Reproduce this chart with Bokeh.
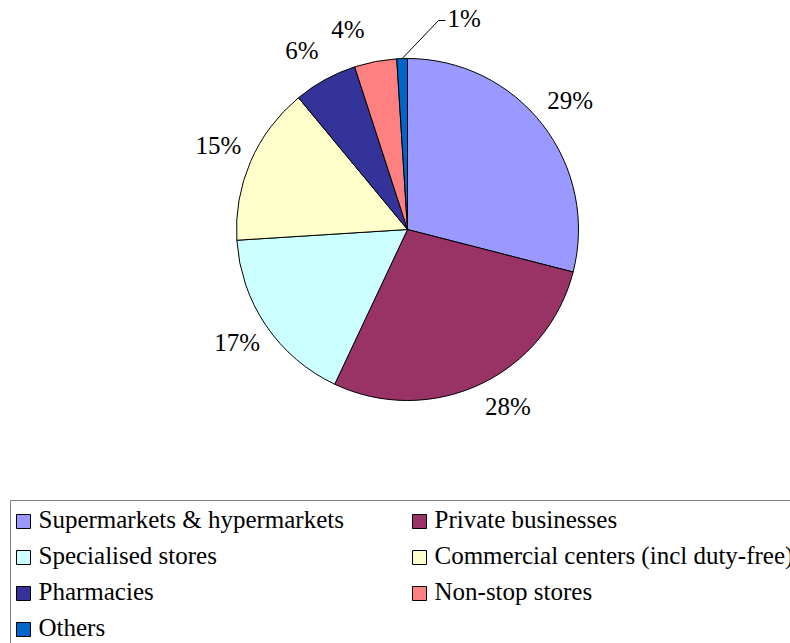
import math
from bokeh.plotting import figure
from bokeh.models import Range1d, ColumnDataSource, Label
from bokeh.embed import file_html
from bokeh.resources import INLINE

# ---- data ----
categories = ["Supermarkets & hypermarkets", "Private businesses", "Specialised stores",
              "Commercial centers (incl duty-free)", "Pharmacies", "Non-stop stores", "Others"]
shares = [29, 28, 17, 15, 6, 4, 1]
colors = ["#9999FF", "#993366", "#CCFFFF", "#FFFFCC", "#333399", "#FF8080", "#0066CC"]

W, H = 790, 643
FS = "25px"
FONT_NAME = "Liberation Serif"
BOTTOM_OFF = 11  # px from the visual middle of a text line down to its bottom anchor


def Y(py):
    return H - py


def add_text(x, ymid, text, align):
    p.add_layout(Label(x=x, y=ymid - BOTTOM_OFF, text=text, text_font=FONT_NAME,
                       text_font_size=FS, text_align=align, text_baseline="bottom",
                       text_color="black"))


p = figure(width=W, height=H, output_backend="svg", toolbar_location=None,
           x_range=Range1d(0, W), y_range=Range1d(0, H), min_border=0)
p.axis.visible = False
p.grid.visible = False
p.outline_line_color = None
p.background_fill_color = "white"
p.border_fill_color = "white"

# ---- pie ----
cx, cy, R = 407, Y(229), 171
total = float(sum(shares))
starts, ends, mids = [], [], []
acc = 0.0
for s in shares:
    a0 = math.pi / 2 - 2 * math.pi * acc / total
    acc += s
    a1 = math.pi / 2 - 2 * math.pi * acc / total
    starts.append(a0)
    ends.append(a1)
    mids.append((a0 + a1) / 2)

src = ColumnDataSource(dict(start=starts, end=ends, color=colors))
p.wedge(x=cx, y=cy, radius=R, start_angle="start", end_angle="end", direction="clock",
        fill_color="color", line_color="black", line_width=1, source=src)

# ---- data labels (outside end) ----
label_r = 206
nudge_deg = [0, 4, 0, 0, 2, 6]
for i in range(len(shares) - 1):
    a = mids[i] + math.radians(nudge_deg[i])
    add_text(cx + label_r * math.cos(a), cy + label_r * math.sin(a), f"{shares[i]}%", "center")

# small slice label with leader line
a = mids[-1]
ex, ey = cx + R * math.cos(a), cy + R * math.sin(a)
kx, ky = 438, Y(20)
p.line(x=[ex, kx, kx + 7], y=[ey, ky, ky], line_color="black", line_width=1)
add_text(kx + 9, ky, f"{shares[-1]}%", "left")

# ---- legend (drawn) ----
p.quad(left=10, right=W + 10, top=Y(500), bottom=Y(H + 10), fill_color="white",
       line_color="#808080", line_width=1)
col_x = [16, 412]
row_y0, row_dy = 521, 36
sq = 14
for i, (name, c) in enumerate(zip(categories, colors)):
    col, row = i % 2, i // 2
    x0 = col_x[col]
    yc = Y(row_y0 + row * row_dy)
    p.quad(left=x0, right=x0 + sq, top=yc + sq / 2, bottom=yc - sq / 2,
           fill_color=c, line_color="black", line_width=1)
    add_text(x0 + sq + 8, yc, name, "left")

open("out.html", "w").write(file_html(p, INLINE))
